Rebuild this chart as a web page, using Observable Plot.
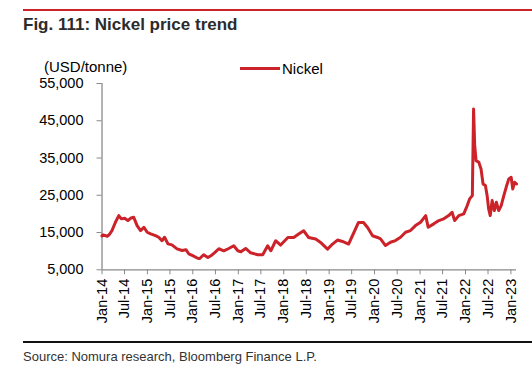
<!DOCTYPE html>
<html>
<head>
<meta charset="utf-8">
<script src="https://cdn.jsdelivr.net/npm/d3@7"></script>
<script src="https://cdn.jsdelivr.net/npm/@observablehq/plot@0.6"></script>
<style>
  html, body { margin: 0; padding: 0; background: #fff; }
  #wrap { position: relative; width: 532px; height: 377px; overflow: hidden;
          font-family: Arial, "Liberation Sans", sans-serif; color: #000; }
  .abs { position: absolute; white-space: nowrap; }
  #topRule { left: 23px; top: 9px; width: 509px; height: 2px; background: #cc2229; }
  #title { left: 23px; top: 15px; font-size: 17px; font-weight: bold; color: #2b2b2b; }
  #unit { left: 44px; top: 58px; font-size: 15px; }
  #legLine { left: 240px; top: 67px; width: 40px; height: 3px; background: #cc2229; }
  #legText { left: 282px; top: 60px; font-size: 15px; }
  #botRule { left: 23px; top: 341px; width: 509px; height: 2px; background: #111; }
  #source { left: 23px; top: 349px; font-size: 13px; color: #333; }
  #chart { left: 0; top: 0; }
</style>
</head>
<body>
<div id="wrap">
  <div id="topRule" class="abs"></div>
  <div id="title" class="abs">Fig. 111: Nickel price trend</div>
  <div id="unit" class="abs">(USD/tonne)</div>
  <div id="legLine" class="abs"></div>
  <div id="legText" class="abs">Nickel</div>
  <div id="chart" class="abs"></div>
  <div id="botRule" class="abs"></div>
  <div id="source" class="abs">Source: Nomura research, Bloomberg Finance L.P.</div>
</div>
<script>
const seriesName = "Nickel";
const dates = [
  "2014-01-01","2014-01-09","2014-02-12","2014-03-04","2014-03-22","2014-04-19","2014-05-16","2014-06-06",
  "2014-07-02","2014-07-28","2014-08-18","2014-09-13","2014-10-10","2014-11-07","2014-12-04","2014-12-30",
  "2015-01-27","2015-03-07","2015-04-02","2015-04-28","2015-05-19","2015-06-15","2015-07-17","2015-08-27",
  "2015-10-07","2015-11-07","2015-11-29","2015-12-31","2016-02-09","2016-02-26","2016-03-28","2016-05-01",
  "2016-05-25","2016-06-25","2016-07-28","2016-09-06","2016-10-16","2016-11-25","2016-12-28","2017-01-21",
  "2017-03-01","2017-04-10","2017-06-06","2017-07-16","2017-08-25","2017-09-19","2017-10-28","2017-12-07",
  "2018-02-03","2018-03-22","2018-05-01","2018-06-10","2018-07-19","2018-09-15","2018-10-24","2018-12-19",
  "2019-01-28","2019-03-09","2019-04-18","2019-06-06","2019-07-07","2019-08-25","2019-10-04","2019-11-06",
  "2019-12-16","2020-01-25","2020-02-18","2020-03-29","2020-05-08","2020-06-17","2020-07-28","2020-09-06",
  "2020-10-16","2020-11-25","2021-01-05","2021-02-15","2021-03-07","2021-04-21","2021-06-01","2021-07-10",
  "2021-08-19","2021-09-15","2021-10-06","2021-11-08","2021-12-18","2022-01-15","2022-02-03","2022-02-25",
  "2022-03-07","2022-03-16","2022-03-27","2022-04-18","2022-05-06","2022-05-22","2022-06-10","2022-06-24",
  "2022-07-06","2022-07-19","2022-08-03","2022-08-21","2022-09-06","2022-09-25","2022-10-15","2022-11-05",
  "2022-11-24","2022-12-15","2023-01-03","2023-01-16","2023-01-31","2023-02-15"
];
const prices = [
  14100,14380,14000,14600,15530,17760,19550,18670,
  18830,18210,18830,19100,16870,15530,16420,15080,
  14640,14190,13740,12800,13740,11970,11700,10630,
  10180,10400,9300,8800,8100,8040,9030,8300,
  8760,9600,10650,10100,10720,11450,10100,9840,
  10720,9570,9030,9030,11450,10100,12800,11640,
  13680,13680,14590,15480,13680,13250,12340,10560,
  11910,12980,12600,11910,14140,17710,17710,16370,
  14140,13680,13300,11510,12400,12850,13740,15080,
  15530,16870,17760,19550,16420,17330,18210,18670,
  19550,20440,18210,19550,20000,22230,24030,24900,
  48150,38300,34300,33840,32070,28050,27600,24900,
  21350,19550,23570,20900,23120,20900,22230,24900,
  27140,29390,29820,26700,28480,28050
];
const yTicks = [5000, 15000, 25000, 35000, 45000, 55000];
const xTickDates = ["2014-01-01","2014-07-01","2015-01-01","2015-07-01","2016-01-01","2016-07-01",
  "2017-01-01","2017-07-01","2018-01-01","2018-07-01","2019-01-01","2019-07-01","2020-01-01",
  "2020-07-01","2021-01-01","2021-07-01","2022-01-01","2022-07-01","2023-01-01"];
const xDomain = ["2014-01-01", "2023-02-15"];
const yDomain = [5000, 55000];

const parse = d3.utcParse("%Y-%m-%d");
const rows = d3.zip(dates, prices).map(([d, v]) => ({date: parse(d), value: v, series: seriesName}));
const xt = xTickDates.map(parse);
const fmtX = d3.utcFormat("%b-%y");

const chart = Plot.plot({
  width: 532,
  height: 340,
  marginLeft: 101.5,
  marginRight: 16,
  marginTop: 83,
  marginBottom: 70.7,
  style: {fontFamily: 'Arial, "Liberation Sans", sans-serif', fontSize: "14.5px", color: "#000", background: "transparent"},
  x: {type: "utc", domain: xDomain.map(parse)},
  y: {domain: yDomain},
  marks: [
    Plot.ruleY([yDomain[0]], {stroke: "#8a8a8a", strokeWidth: 1.3}),
    Plot.ruleX([parse(xDomain[0])], {stroke: "#8a8a8a", strokeWidth: 1.3}),
    Plot.axisY({ticks: yTicks, tickFormat: d3.format(","), tickSize: 5, tickPadding: 13.5,
      stroke: "#8a8a8a", label: null}),
    Plot.axisX({ticks: xt, tickFormat: fmtX, tickSize: 5, tickPadding: 4, tickRotate: -90,
      stroke: "#8a8a8a", label: null}),
    Plot.line(rows, {x: "date", y: "value", stroke: "#cc2229", strokeWidth: 3, strokeLinejoin: "round"})
  ]
});
document.getElementById("chart").appendChild(chart);
</script>
</body>
</html>
